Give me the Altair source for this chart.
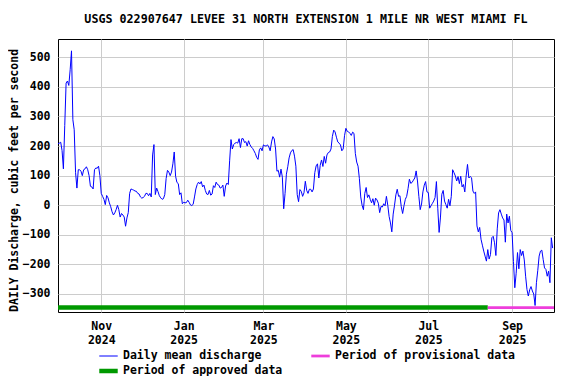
import altair as alt
import pandas as pd

# ---------------- data ----------------
start_date = "2024-09-30"
discharge = [
    208, 210, 213, 185, 123, 270, 413, 420, 405, 458,
    522, 289, 255, 110, 58, 120, 120, 115, 100, 120,
    123, 130, 120, 100, 64, 62, 55, 120, 126, 125,
    132, 100, 40, 30, 20, 2, 33, 25, 8, -5,
    -22, -33, -26, -15, 0, -15, -40, -28, -33, -40,
    -71, -43, -25, 40, 55, 53, 51, 48, 47, 40,
    38, 28, 24, 26, 30, 40, 40, 32, 40, 28,
    170, 205, 36, 58, 46, 32, 25, 20, 22, 36,
    90, 118, 112, 100, 112, 140, 180, 98, 77, 73,
    36, 42, 5, 10, 8, 9, 17, 10, 1, -1,
    3, 28, 55, 70, 78, 72, 80, 62, 68, 50,
    38, 36, 50, 34, 38, 66, 60, 78, 70, 68,
    58, 60, 68, 30, 65, 75, 70, 150, 222, 190,
    205, 210, 212, 210, 225, 195, 225, 225, 212, 215,
    200, 218, 205, 197, 192, 184, 175, 162, 155, 187,
    194, 184, 204, 201, 200, 204, 197, 184, 214, 232,
    224, 190, 115, 118, 95, 122, 95, -12, 40, 105,
    130, 160, 177, 185, 188, 166, 132, 36, 12, 53,
    47, 30, 42, 81, 50, 40, 54, 54, 45, 55,
    110, 133, 140, 92, 135, 153, 131, 165, 142, 170,
    178, 180, 190, 232, 254, 248, 230, 214, 210, 204,
    184, 190, 235, 260, 250, 248, 243, 236, 247, 243,
    175, 146, 132, 90, 28, 0, -15, 40, 60, 26,
    35, 20, 8, 22, 0, 24, 18, 7, -25, -4,
    -6, 5, -2, 30, 0, -38, -60, -90, -30, 0,
    35, 54, 30, 32, -5, -28, -2, 20, 30, 56,
    88, 74, 77, 85, 92, 116, 82, 30, -15, 4,
    45, 68, 80, 45, 43, -10, -2, 6, 14, 26,
    80, -10, -92, -40, 37, 50, 14, 2, -10, 20,
    -2, 30, 120, 110, 99, 82, 97, 73, 98, 62,
    70, 45, 99, 138, 92, 97, 93, 48, 40, 45,
    -70, -90, -75, -115, -135, -155, -172, -189, -150, -182,
    -167, -110, -105, -127, -170, -80, -26, -15, -30, -43,
    -50, -125, -30, -60, -37, -85, -93, -190, -279, -230,
    -160, -215, -150, -170, -155, -185, -240, -285, -307, -286,
    -275, -290, -300, -339, -262, -220, -172, -155, -152, -184,
    -212, -217, -240, -223, -262, -110, -145,
]

series_names = ["Daily mean discharge", "Period of provisional data", "Period of approved data"]
series_colors = ["#0000ff", "#ee3edb", "#009900"]
series_widths = [1, 4.5, 4.5]

period_names = ["Period of approved data", "Period of provisional data"]
period_starts = ["2024-09-30", "2025-08-14"]
period_ends = ["2025-08-14", "2025-10-02"]
period_level = -346

y_ticks = [-300, -200, -100, 0, 100, 200, 300, 400, 500]
y_domain = [-361, 562]
x_domain = [alt.DateTime(year=2024, month=9, date=30), alt.DateTime(year=2025, month=10, date=2)]
x_ticks = [
    alt.DateTime(year=2024, month=11, date=1),
    alt.DateTime(year=2025, month=1, date=1),
    alt.DateTime(year=2025, month=3, date=1),
    alt.DateTime(year=2025, month=5, date=1),
    alt.DateTime(year=2025, month=7, date=1),
    alt.DateTime(year=2025, month=9, date=1),
]

title_text = "USGS 022907647 LEVEE 31 NORTH EXTENSION 1 MILE NR WEST MIAMI FL"
y_title = "DAILY Discharge, cubic feet per second"

FONT = "DejaVu Sans Mono"
FS = 11.5

# ---------------- one table: daily series + period bars ----------------
flow = pd.DataFrame({
    "date": pd.date_range(start_date, periods=len(discharge), freq="D"),
    "value": discharge,
    "series": series_names[0],
})
bar_rows = []
for name, s, e in zip(period_names, period_starts, period_ends):
    bar_rows.append({"date": pd.Timestamp(s), "value": period_level, "series": name})
    bar_rows.append({"date": pd.Timestamp(e), "value": period_level, "series": name})
table = pd.concat([flow, pd.DataFrame(bar_rows)], ignore_index=True)

legend = alt.Legend(
    title=None, orient="none", legendX=39, legendY=310, columns=2,
    direction="horizontal",
    symbolType="stroke", symbolSize=340, clipHeight=14, rowPadding=1,
    columnPadding=26, labelOffset=3, labelFont=FONT, labelFontSize=FS,
    labelFontWeight="bold", labelColor="black", labelLimit=400,
)

x_axis = alt.Axis(
    title=None, values=x_ticks, ticks=False, domain=False, grid=True,
    gridColor="#cccccc", labelPadding=8.5, labelLineHeight=13.5,
    labelExpr="[timeFormat(datum.value, '%b'), timeFormat(datum.value, '%Y')]",
    labelAlign="center", labelOverlap=False,
)
y_axis = alt.Axis(
    title=y_title, values=y_ticks, ticks=False, domain=False, grid=True,
    gridColor="#cccccc", labelPadding=8, labelOverlap=False,
    titleX=-44, titleY=141,
    titleAngle=-90, titleBaseline="middle", titleAlign="center",
)

chart = alt.Chart(table).mark_line(clip=True, strokeCap="butt").encode(
    x=alt.X("date:T", scale=alt.Scale(domain=x_domain), axis=x_axis),
    y=alt.Y("value:Q", scale=alt.Scale(domain=y_domain, nice=False, zero=False), axis=y_axis),
    color=alt.Color("series:N", scale=alt.Scale(domain=series_names, range=series_colors),
                    legend=legend),
    strokeWidth=alt.StrokeWidth("series:N", scale=alt.Scale(domain=series_names, range=series_widths),
                                legend=legend),
    order=alt.Order("date:T"),
).properties(
    width=496, height=273,
    autosize=alt.AutoSizeParams(type="none"),
    padding={"left": 50, "top": 31, "right": 14, "bottom": 64},
    title=alt.Title(title_text, font=FONT, fontSize=11.7, fontWeight="bold",
                    color="black", anchor="middle", offset=13),
).configure_view(
    stroke="black", strokeWidth=1,
).configure_axis(
    labelFont=FONT, labelFontSize=FS, labelFontWeight="bold", labelColor="black",
    titleFont=FONT, titleFontSize=FS, titleFontWeight="bold", titleColor="black",
    labelOverlap=False,
)

chart.save("out.html", embed_options={"renderer": "svg", "actions": False})
